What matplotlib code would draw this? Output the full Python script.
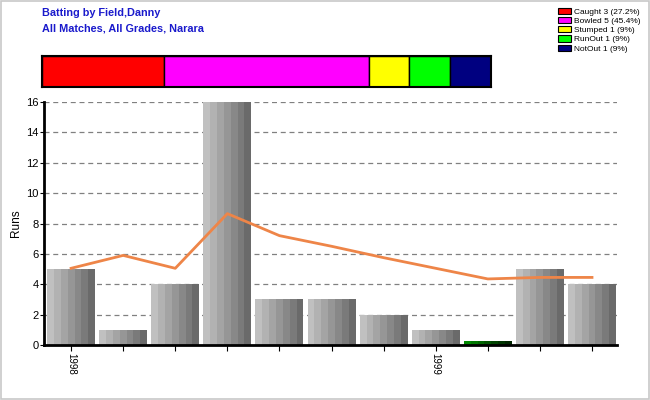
import matplotlib
matplotlib.use("Agg")
import matplotlib.pyplot as plt
from matplotlib.patches import Patch, Rectangle

# data
runs = [5, 1, 4, 16, 3, 3, 2, 1, 0.25, 5, 4]
bar_kind = ["out", "out", "out", "out", "out", "out", "out", "out", "runout", "out", "out"]
trend = [5.05, 5.9, 5.05, 8.65, 7.2, 6.5, 5.75, 5.05, 4.35, 4.45, 4.45]
xlabels = {0: "1998", 7: "1999"}

dismissals = ["Caught", "Bowled", "Stumped", "RunOut", "NotOut"]
dis_counts = [3, 5, 1, 1, 1]
dis_pct = ["27.2%", "45.4%", "9%", "9%", "9%"]
dis_colors = ["#ff0000", "#ff00ff", "#ffff00", "#00ff00", "#000080"]

grey_bands = ["#c0c0c0", "#b2b2b2", "#a4a4a4", "#969696", "#888888", "#7a7a7a", "#6a6a6a"]
green_bands = ["#008a00", "#007800", "#006600", "#005400", "#004400", "#003400", "#002600"]

plt.rcParams["font.family"] = ["Liberation Sans", "DejaVu Sans"]
fig = plt.figure(figsize=(6.5, 4), dpi=100)
fig.patches.append(Rectangle((0.001, 0.002), 0.997, 0.996, transform=fig.transFigure,
                             fill=False, ec="#c8c8c8", lw=1.2))

fig.text(42/650, 1 - 12.5/400, "Batting by Field,Danny", color="#1a1acc", fontsize=7.8,
         fontweight="bold", va="center")
fig.text(42/650, 1 - 28.5/400, "All Matches, All Grades, Narara", color="#1a1acc", fontsize=7.8,
         fontweight="bold", va="center")

# dismissal strip
sx = fig.add_axes([42/650, 1 - 87/400, 449/650, 31/400])
left = 0
for n, c in zip(dis_counts, dis_colors):
    sx.barh(0, n, left=left, height=1, color=c, edgecolor="black", lw=1)
    left += n
sx.set_xlim(0, sum(dis_counts)); sx.set_ylim(-0.5, 0.5)
sx.set_xticks([]); sx.set_yticks([])
for s in sx.spines.values():
    s.set_linewidth(1.5)

handles = [Patch(fc=c, ec="black", lw=0.8) for c in dis_colors]
labels = [f"{d} {n} ({p})" for d, n, p in zip(dismissals, dis_counts, dis_pct)]
fig.legend(handles, labels, loc="upper left", bbox_to_anchor=(552/650, 1 - 2/400), fontsize=6,
           frameon=False, handlelength=1.6, handleheight=0.75, labelspacing=0.15,
           handletextpad=0.4, borderpad=0.2)

# main chart
ax = fig.add_axes([44/650, 1 - 345/400, 573/650, 243/400])
x = list(range(len(runs)))
w = 0.92
nb = len(grey_bands)
for i, (v, k) in enumerate(zip(runs, bar_kind)):
    bands = green_bands if k == "runout" else grey_bands
    for j, c in enumerate(bands):
        ax.bar(i - w/2 + (j + 0.5) * w/nb, v, width=w/nb, color=c, lw=0, zorder=2)
ax.plot(x, trend, color="#ee8548", lw=2, zorder=3)

ax.set_xlim(-0.52, 10.48)
ax.set_ylim(0, 16)
ax.set_yticks(range(0, 17, 2))
ax.yaxis.grid(True, ls=(0, (4, 3)), color="#808080", lw=0.9, zorder=1)
ax.set_xticks(x)
ax.set_xticklabels([xlabels.get(i, "") for i in x], rotation=-90, fontsize=7)
ax.tick_params(axis="y", labelsize=8, length=3, pad=1)
ax.tick_params(axis="x", length=4, pad=2)
for s in ["top", "right"]:
    ax.spines[s].set_visible(False)
ax.spines["left"].set_linewidth(2)
ax.spines["bottom"].set_linewidth(2)
ax.set_ylabel("Runs", fontsize=8.5, labelpad=3)

fig.savefig("out.png", dpi=100)
